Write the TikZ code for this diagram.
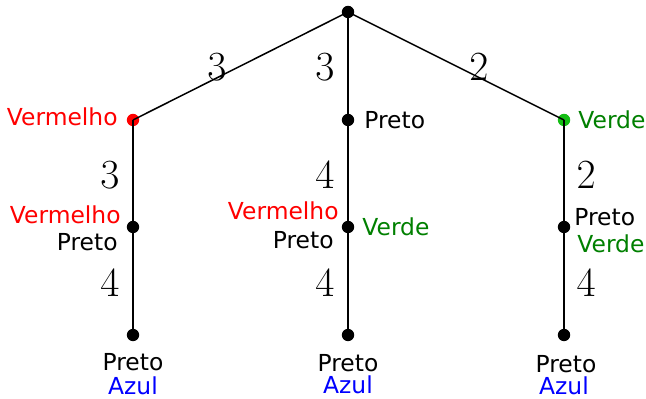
\documentclass[tikz,border=0pt]{standalone}
\usepackage{fontspec}
\setsansfont{DejaVu Sans}
\begin{document}
\begin{tikzpicture}[x=0.5pt,y=-0.5pt,
  dot/.style={circle,fill=black,inner sep=0pt,minimum size=6.2pt},
  lbl/.style={font=\sffamily\fontsize{11.7}{13}\selectfont,inner sep=0pt},
  num/.style={font=\fontsize{19.5}{22}\selectfont,inner sep=0pt},
  edge/.style={line width=0.75pt}]
\useasboundingbox[fill=white] (0,0) rectangle (646,399);
% dots
\node[dot] (r) at (348,12) {};
\node[dot,fill=red] (a1) at (133,120) {};
\node[dot] (b1) at (348,120) {};
\node[dot,fill={rgb,255:red,20;green,190;blue,20}] (c1) at (564,120) {};
\node[dot] (a2) at (133,227) {};
\node[dot] (b2) at (348,227) {};
\node[dot] (c2) at (564,227) {};
\node[dot] (a3) at (133,335) {};
\node[dot] (b3) at (348,335) {};
\node[dot] (c3) at (564,335) {};
% edges
\draw[edge] (r.center) -- (a1.center);
\draw[edge] (r.center) -- (b1.center);
\draw[edge] (r.center) -- (c1.center);
\draw[edge] (a1.center) -- (a2.center) -- (a3.center);
\draw[edge] (b1.center) -- (b2.center) -- (b3.center);
\draw[edge] (c1.center) -- (c2.center) -- (c3.center);
% numbers
\node[num] (n1) at (217,67) {$3$};
\node[num] (n2) at (325,67) {$3$};
\node[num] (n3) at (479,67) {$2$};
\node[num] (n4) at (110,175) {$3$};
\node[num] (n5) at (325,175) {$4$};
\node[num] (n6) at (586,175) {$2$};
\node[num] (n7) at (110,283) {$4$};
\node[num] (n8) at (325,283) {$4$};
\node[num] (n9) at (586,283) {$4$};
% level 1 labels
\node[lbl,anchor=east,text=red] (t1) at (118,117) {Vermelho};
\node[lbl,anchor=west] (t2) at (364,120) {Preto};
\node[lbl,anchor=west,text={rgb,255:red,0;green,128;blue,0}] (t3) at (578,120) {Verde};
% level 2 labels
\node[lbl,anchor=east,text=red] (t4) at (121,215) {Vermelho};
\node[lbl,anchor=east] (t5) at (118,242) {Preto};
\node[lbl,anchor=east,text=red] (t6) at (339,211) {Vermelho};
\node[lbl,anchor=east] (t7) at (334,240) {Preto};
\node[lbl,anchor=west,text={rgb,255:red,0;green,128;blue,0}] (t8) at (362,227) {Verde};
\node[lbl,anchor=west] (t9) at (574,217) {Preto};
\node[lbl,anchor=west,text={rgb,255:red,0;green,128;blue,0}] (t10) at (577,244) {Verde};
% bottom labels
\node[lbl] (t11) at (133,362) {Preto};
\node[lbl,text=blue] (t12) at (133,386) {Azul};
\node[lbl] (t13) at (348,363) {Preto};
\node[lbl,text=blue] (t14) at (348,385) {Azul};
\node[lbl] (t15) at (566,364) {Preto};
\node[lbl,text=blue] (t16) at (564,386) {Azul};
\end{tikzpicture}
\end{document}
